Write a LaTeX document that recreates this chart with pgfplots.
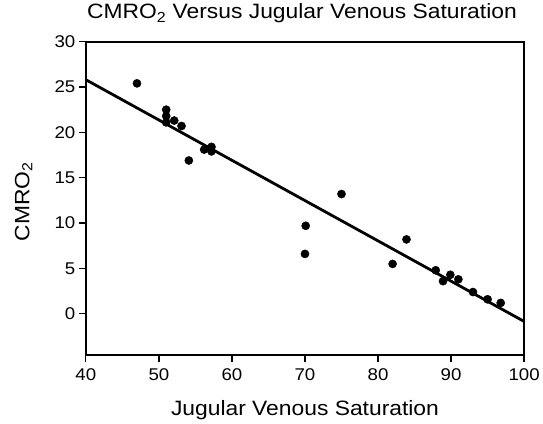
\documentclass[border=0pt]{standalone}
\usepackage{pgfplots}
\pgfplotsset{compat=1.18}
\usepackage{fontspec}
\setmainfont[FakeStretch=1.1]{Liberation Sans}
\begin{document}
\begin{tikzpicture}
\begin{axis}[
  scale only axis,
  width=439pt, height=314pt,
  xmin=40, xmax=100, ymin=-4.55, ymax=30,
  xtick={40,50,...,100}, ytick={0,5,...,30},
  tick align=outside, tick pos=left,
  major tick length=7pt,
  axis line style={line width=1.8pt},
  every tick/.style={line width=1.3pt, black},
  /pgf/number format/assume math mode=true,
  tick label style={font=\fontsize{17}{19}\selectfont},
  xticklabel style={yshift=-3pt},
  title={CMRO\textsubscript{2} Versus Jugular Venous Saturation},
  title style={font=\fontsize{20.8}{24}\selectfont, at={(axis description cs:0.5,1)}, anchor=base, yshift=16.7pt, xshift=-3pt},
  xlabel={Jugular Venous Saturation},
  xlabel style={font=\fontsize{20.8}{24}\selectfont, at={(axis description cs:0.5,0)}, anchor=base, yshift=-61pt},
  ylabel={CMRO\textsubscript{2}},
  ylabel style={font=\fontsize{20.8}{24}\selectfont, at={(axis description cs:-0.129,0.49)}, anchor=base},
]
\addplot[only marks, mark=*, mark size=4.1pt, black] coordinates {
(47.0,25.4) (51.0,22.5) (51.0,21.8) (51.0,21.1) (52.1,21.3) (53.1,20.7)
(54.1,16.9) (56.2,18.1) (57.2,18.4) (57.2,17.9) (70.1,9.7) (70.0,6.6)
(75.0,13.2) (82.0,5.5) (83.9,8.2) (87.9,4.8) (88.9,3.6) (89.9,4.3)
(91.0,3.8) (93.0,2.4) (95.0,1.6) (96.8,1.2)
};
\addplot[black, line width=2.8pt] coordinates {(40,25.8) (100,-0.84)};
\end{axis}
\path (current axis.south west) ++(-86pt,-67.3pt) rectangle ++(543pt,423pt);
\end{tikzpicture}
\end{document}
